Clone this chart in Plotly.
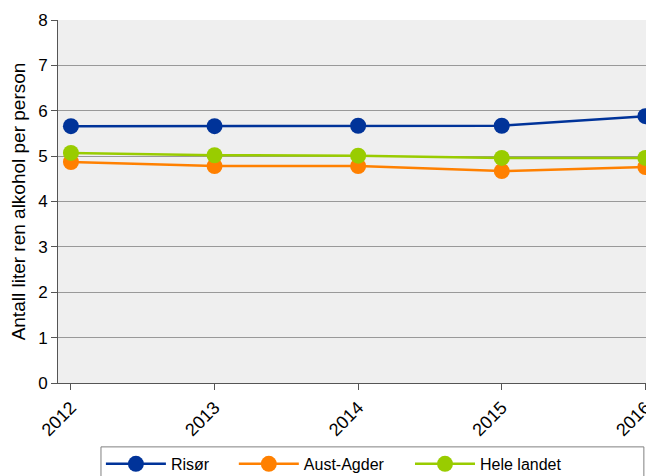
import plotly.graph_objects as go

years = [2012, 2013, 2014, 2015, 2016]
risor = [5.66, 5.66, 5.67, 5.67, 5.88]
aust_agder = [4.87, 4.78, 4.78, 4.67, 4.76]
hele_landet = [5.07, 5.02, 5.01, 4.96, 4.96]

series = [
    ("Risør", risor, "#003399", "legend"),
    ("Aust-Agder", aust_agder, "#ff8000", "legend2"),
    ("Hele landet", hele_landet, "#99cc00", "legend3"),
]
legend_x = [0.072, 0.295, 0.5906]

fig = go.Figure()
for name, vals, col, lg in series:
    fig.add_trace(go.Scatter(
        x=years, y=vals, name=name, mode="lines+markers",
        line=dict(color=col, width=2.5),
        marker=dict(color=col, size=16),
        cliponaxis=False, legend=lg,
    ))

def legend_style(x):
    return dict(
        orientation="h", x=x, xanchor="left", y=-0.176, yanchor="top",
        borderwidth=0, bgcolor="rgba(0,0,0,0)",
        font=dict(size=16), itemwidth=60,
    )

# page has an 8px body margin, so the figure is sized to fill the rest
fig.update_layout(
    width=646, height=468,
    margin=dict(l=50, r=0, t=12, b=93, autoexpand=False),
    paper_bgcolor="white",
    plot_bgcolor="#efefef",
    font=dict(family="Liberation Sans, Arial, sans-serif", size=16, color="#000"),
    showlegend=True,
    legend=legend_style(legend_x[0]),
    legend2=legend_style(legend_x[1]),
    legend3=legend_style(legend_x[2]),
    shapes=[dict(
        type="rect", xref="paper", yref="paper",
        x0=0.0721, x1=0.983, y0=-0.176, y1=-0.30,
        line=dict(color="#808080", width=1), fillcolor="rgba(0,0,0,0)",
    )],
)
fig.update_xaxes(
    range=[2011.91, 2016.06], tickvals=years, ticktext=[str(y) for y in years],
    tickangle=-45, showgrid=False, zeroline=False, automargin=False,
    showline=True, linecolor="#555", linewidth=1,
    ticks="outside", ticklen=6, tickcolor="#555",
    tickfont=dict(size=18), ticklabeloverflow="allow",
)
fig.update_yaxes(
    range=[0, 8], dtick=1, showgrid=True, gridcolor="#999999", gridwidth=1,
    zeroline=False, showline=True, linecolor="#555", linewidth=1, automargin=False,
    ticks="outside", ticklen=6, tickcolor="#555",
    title=dict(text="Antall liter ren alkohol per person", font=dict(size=19), standoff=8),
    tickfont=dict(size=17),
)

fig.write_html("out.html")
